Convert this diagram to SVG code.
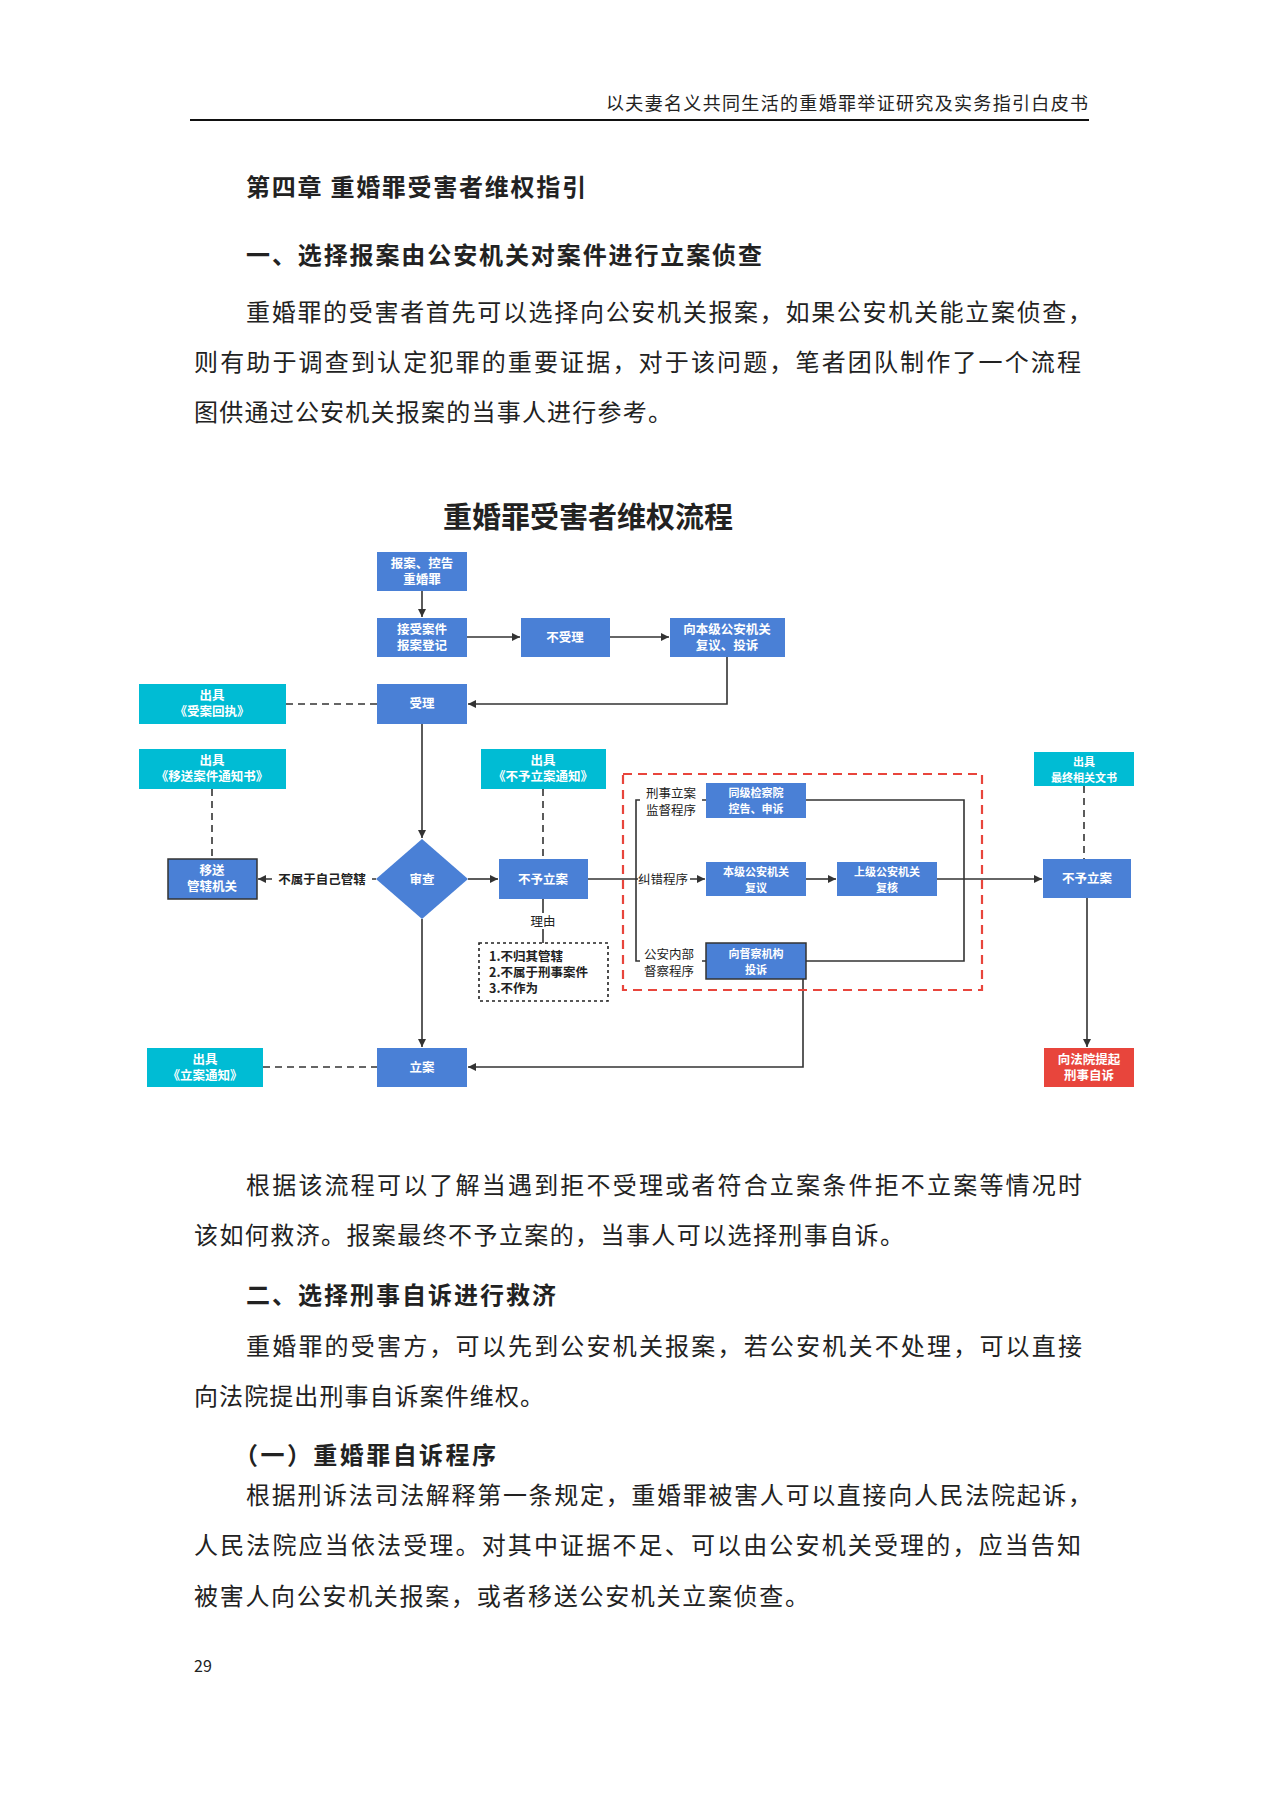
<svg xmlns="http://www.w3.org/2000/svg" width="1273" height="1800" viewBox="0 0 1273 1800">
<defs>
<style>
.t{font-family:"Noto Sans CJK SC","Noto Sans",sans-serif;fill:#222}
.body{font-size:24px}
.h{font-size:24px;font-weight:bold}
.b{fill:#4a80d6}
.c{fill:#00bcd4}
.r{fill:#e8453c}
.bt{font-family:"Noto Sans CJK SC","Noto Sans",sans-serif;font-size:12.5px;font-weight:bold;fill:#fff;text-anchor:middle}
.st{font-size:11px}
.lt{font-family:"Noto Sans CJK SC","Noto Sans",sans-serif;font-size:12.5px;fill:#222;text-anchor:middle}
.ln{stroke:#333;stroke-width:1.6;fill:none}
.dl{stroke:#333;stroke-width:1.6;fill:none;stroke-dasharray:7,5}
</style>
<marker id="ar" viewBox="0 0 10 10" refX="10" refY="5" markerWidth="8" markerHeight="8" orient="auto" markerUnits="userSpaceOnUse"><path d="M0,0L10,5L0,10z" fill="#333"/></marker>
</defs>
<rect width="1273" height="1800" fill="#fff"/>
<text class="t" x="1088" y="110" font-size="18" text-anchor="end" textLength="482">以夫妻名义共同生活的重婚罪举证研究及实务指引白皮书</text>
<line x1="190" y1="120" x2="1089" y2="120" stroke="#111" stroke-width="2"/>
<text class="t h" x="246" y="196" textLength="340">第四章 重婚罪受害者维权指引</text>
<text class="t h" x="246" y="264" textLength="516">一、选择报案由公安机关对案件进行立案侦查</text>
<text class="t body" x="246" y="321" textLength="846">重婚罪的受害者首先可以选择向公安机关报案，如果公安机关能立案侦查，</text>
<text class="t body" x="194" y="371" textLength="887">则有助于调查到认定犯罪的重要证据，对于该问题，笔者团队制作了一个流程</text>
<text class="t body" x="194" y="421" textLength="478">图供通过公安机关报案的当事人进行参考。</text>
<text class="t" x="588" y="528" font-size="29" font-weight="bold" text-anchor="middle" fill="#333">重婚罪受害者维权流程</text>

<g id="connectors">
<path class="ln" d="M422,591V617" marker-end="url(#ar)"/>
<path class="ln" d="M467,637H520" marker-end="url(#ar)"/>
<path class="ln" d="M610,637H669" marker-end="url(#ar)"/>
<path class="ln" d="M727,657V704H468" marker-end="url(#ar)"/>
<path class="dl" d="M286,704H377"/>
<path class="ln" d="M422,724V838" marker-end="url(#ar)"/>
<path class="dl" d="M212,789V859"/>
<path class="ln" d="M376,879H258" marker-end="url(#ar)"/>
<path class="ln" d="M468,879H498" marker-end="url(#ar)"/>
<path class="dl" d="M543,789V859"/>
<path class="ln" d="M543,899V943"/>
<path class="ln" d="M422,919V1047" marker-end="url(#ar)"/>
<path class="dl" d="M263,1067H377"/>
<path class="ln" d="M803,979V1067H468" marker-end="url(#ar)"/>
<path class="ln" d="M588,879H636"/>
<path class="ln" d="M706,800H636V961H706"/>
<path class="ln" d="M636,879H705" marker-end="url(#ar)"/>
<path class="ln" d="M806,800H964V961H806"/>
<path class="ln" d="M806,879H836" marker-end="url(#ar)"/>
<path class="ln" d="M937,879H1042" marker-end="url(#ar)"/>
<path class="dl" d="M1084,786V859"/>
<path class="ln" d="M1087,898V1047" marker-end="url(#ar)"/>
<rect x="623" y="774" width="359" height="216" fill="none" stroke="#e8453c" stroke-width="2.2" stroke-dasharray="9,6"/>
<rect x="272" y="871" width="100" height="16" fill="#fff"/>
<text class="lt" x="322" y="884" font-weight="bold">不属于自己管辖</text>
<rect x="530" y="913" width="26" height="16" fill="#fff"/>
<text class="lt" x="543" y="926">理由</text>
<rect x="640" y="784" width="62" height="34" fill="#fff"/>
<text class="lt" x="671" y="798">刑事立案</text>
<text class="lt" x="671" y="815">监督程序</text>
<rect x="638" y="871" width="52" height="16" fill="#fff"/>
<text class="lt" x="663" y="884">纠错程序</text>
<rect x="640" y="946" width="62" height="34" fill="#fff"/>
<text class="lt" x="669" y="959">公安内部</text>
<text class="lt" x="669" y="976">督察程序</text>
</g>

<g id="n1"><rect class="b" x="377" y="552" width="90" height="39"/><text class="bt" x="422" y="568">报案、控告</text><text class="bt" x="422" y="584">重婚罪</text></g>
<g id="n2"><rect class="b" x="377" y="618" width="90" height="39"/><text class="bt" x="422" y="634">接受案件</text><text class="bt" x="422" y="650">报案登记</text></g>
<g id="n3"><rect class="b" x="521" y="618" width="89" height="39"/><text class="bt" x="565" y="642">不受理</text></g>
<g id="n4"><rect class="b" x="670" y="618" width="115" height="39"/><text class="bt" x="727" y="634">向本级公安机关</text><text class="bt" x="727" y="650">复议、投诉</text></g>
<g id="n5"><rect class="b" x="377" y="684" width="90" height="40"/><text class="bt" x="422" y="708">受理</text></g>
<g id="n6"><rect class="c" x="139" y="684" width="147" height="40"/><text class="bt" x="212" y="700">出具</text><text class="bt" x="212" y="716">《受案回执》</text></g>
<g id="n7"><rect class="c" x="139" y="749" width="147" height="40"/><text class="bt" x="212" y="765">出具</text><text class="bt" x="212" y="781">《移送案件通知书》</text></g>
<g id="n8"><rect class="c" x="481" y="749" width="125" height="40"/><text class="bt" x="543" y="765">出具</text><text class="bt" x="543" y="781">《不予立案通知》</text></g>
<g id="n9"><rect class="b" x="168" y="859" width="89" height="40" stroke="#333" stroke-width="1.5"/><text class="bt" x="212" y="875">移送</text><text class="bt" x="212" y="891">管辖机关</text></g>
<g id="n10"><path class="b" d="M422,839L468,879L422,919L376,879z"/><text class="bt" x="422" y="884">审查</text></g>
<g id="n11"><rect class="b" x="499" y="859" width="89" height="40"/><text class="bt" x="543" y="884">不予立案</text></g>
<g id="n12"><rect x="479" y="943" width="129" height="58" fill="#fff" stroke="#222" stroke-width="1.6" stroke-dasharray="3,3"/>
<text class="t" x="489" y="961" font-size="12.5" font-weight="bold">1.不归其管辖</text>
<text class="t" x="489" y="977" font-size="12.5" font-weight="bold">2.不属于刑事案件</text>
<text class="t" x="489" y="993" font-size="12.5" font-weight="bold">3.不作为</text></g>
<g id="n13"><rect class="b" x="377" y="1048" width="90" height="39"/><text class="bt" x="422" y="1072">立案</text></g>
<g id="n14"><rect class="c" x="147" y="1048" width="116" height="39"/><text class="bt" x="205" y="1064">出具</text><text class="bt" x="205" y="1080">《立案通知》</text></g>
<g id="n15"><rect class="b" x="706" y="783" width="100" height="35"/><text class="bt st" x="756" y="797">同级检察院</text><text class="bt st" x="756" y="813">控告、申诉</text></g>
<g id="n16"><rect class="b" x="706" y="862" width="100" height="34"/><text class="bt st" x="756" y="876">本级公安机关</text><text class="bt st" x="756" y="892">复议</text></g>
<g id="n17"><rect class="b" x="837" y="862" width="100" height="34"/><text class="bt st" x="887" y="876">上级公安机关</text><text class="bt st" x="887" y="892">复核</text></g>
<g id="n18"><rect class="b" x="706" y="943" width="100" height="36" stroke="#333" stroke-width="1.5"/><text class="bt st" x="756" y="958">向督察机构</text><text class="bt st" x="756" y="974">投诉</text></g>
<g id="n19"><rect class="b" x="1043" y="859" width="88" height="39"/><text class="bt" x="1087" y="883">不予立案</text></g>
<g id="n20"><rect class="c" x="1034" y="752" width="100" height="34"/><text class="bt st" x="1084" y="766">出具</text><text class="bt st" x="1084" y="782">最终相关文书</text></g>
<g id="n21"><rect class="r" x="1044" y="1048" width="90" height="39"/><text class="bt" x="1089" y="1064">向法院提起</text><text class="bt" x="1089" y="1080">刑事自诉</text></g>

<text class="t body" x="246" y="1194" textLength="836">根据该流程可以了解当遇到拒不受理或者符合立案条件拒不立案等情况时</text>
<text class="t body" x="194" y="1244" textLength="710">该如何救济。报案最终不予立案的，当事人可以选择刑事自诉。</text>
<text class="t h" x="246" y="1304" textLength="310">二、选择刑事自诉进行救济</text>
<text class="t body" x="246" y="1355" textLength="836">重婚罪的受害方，可以先到公安机关报案，若公安机关不处理，可以直接</text>
<text class="t body" x="194" y="1405" textLength="350">向法院提出刑事自诉案件维权。</text>
<text class="t h" x="234" y="1464" textLength="262">（一）重婚罪自诉程序</text>
<text class="t body" x="246" y="1504" textLength="846">根据刑诉法司法解释第一条规定，重婚罪被害人可以直接向人民法院起诉，</text>
<text class="t body" x="194" y="1554" textLength="887">人民法院应当依法受理。对其中证据不足、可以由公安机关受理的，应当告知</text>
<text class="t body" x="194" y="1605" textLength="615">被害人向公安机关报案，或者移送公安机关立案侦查。</text>
<text class="t" x="194" y="1672" font-size="16">29</text>
</svg>
